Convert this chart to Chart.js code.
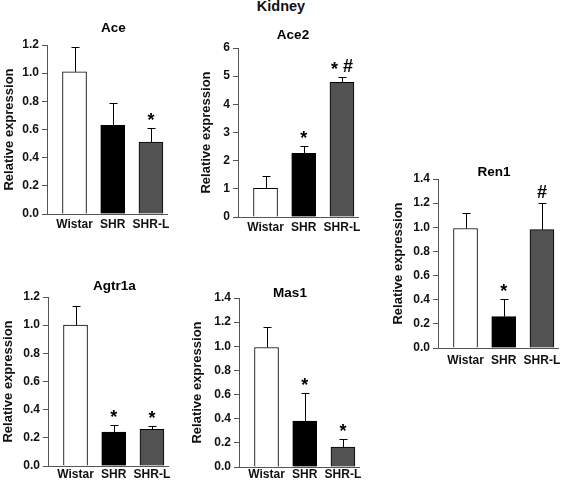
<!DOCTYPE html>
<html>
<head>
<meta charset="utf-8">
<script src="https://cdn.jsdelivr.net/npm/chart.js@4.4.0/dist/chart.umd.min.js"></script>
<style>
  body {
    margin: 0;
    width: 572px;
    height: 481px;
    position: relative;
    overflow: hidden;
    background: #fff;
    font-family: "Liberation Sans", Arial, sans-serif;
  }
  #mainTitle {
    position: absolute;
    left: 0;
    top: -2px;
    width: 562px;
    text-align: center;
    font-weight: bold;
    font-size: 14.5px;
    line-height: 16px;
    color: #111;
  }
  canvas {
    position: absolute;
  }
</style>
</head>
<body>
<div id="mainTitle">Kidney</div>
<canvas id="aceChart" width="180" height="236" style="left:0px;top:0px"></canvas>
<canvas id="ace2Chart" width="180" height="240" style="left:190px;top:0px"></canvas>
<canvas id="ren1Chart" width="192" height="220" style="left:380px;top:150px"></canvas>
<canvas id="agtr1aChart" width="180" height="231" style="left:0px;top:250px"></canvas>
<canvas id="mas1Chart" width="180" height="231" style="left:190px;top:250px"></canvas>

<script>
  // groups shown on every panel
  var groups = ["Wistar", "SHR", "SHR-L"];
  var barColors = ["#ffffff", "#000000", "#525252"];

  // values (mean, upper error)
  var aceMean = [1.01, 0.63, 0.51];
  var aceErr = [0.175, 0.16, 0.1];
  var aceMarks = ["", "", "*"];

  var ace2Mean = [1.02, 2.26, 4.78];
  var ace2Err = [0.45, 0.26, 0.19];
  var ace2Marks = ["", "*", "* #"];

  var ren1Mean = [0.99, 0.26, 0.98];
  var ren1Err = [0.13, 0.15, 0.22];
  var ren1Marks = ["", "*", "#"];

  var agtr1aMean = [1.0, 0.24, 0.26];
  var agtr1aErr = [0.135, 0.05, 0.025];
  var agtr1aMarks = ["", "*", "*"];

  var mas1Mean = [0.99, 0.38, 0.165];
  var mas1Err = [0.17, 0.23, 0.065];
  var mas1Marks = ["", "*", "*"];

  Chart.defaults.font.family = '"Liberation Sans", Arial, sans-serif';
  Chart.defaults.color = "#111";

  // draws "*", "#" etc. each glyph centred vertically on cy
  function drawMark(c, text, x, cy) {
    if (!text) return;
    c.font = "bold 18px 'Liberation Sans', Arial, sans-serif";
    c.textAlign = "left";
    c.textBaseline = "alphabetic";
    var start = x - c.measureText(text).width / 2;
    for (var k = 0; k < text.length; k++) {
      var ch = text[k];
      if (ch === " ") continue;
      var m = c.measureText(ch);
      var off = c.measureText(text.slice(0, k)).width;
      var base = cy + (m.actualBoundingBoxAscent - m.actualBoundingBoxDescent) / 2;
      c.fillText(ch, start + off, base);
    }
  }

  function makePanel(id, cfg) {
    var ctx = document.getElementById(id).getContext("2d");

    // error bars, significance marks and the panel title
    var extras = {
      id: "extras",
      afterDatasetsDraw: function (chart) {
        var c = chart.ctx;
        var meta = chart.getDatasetMeta(0);
        var yScale = chart.scales.y;
        var area = chart.chartArea;
        c.save();
        c.strokeStyle = "#000";
        c.fillStyle = "#000";
        c.lineWidth = 1;
        meta.data.forEach(function (bar, i) {
          var x = Math.round(bar.x) + 0.5;
          var top = Math.round(yScale.getPixelForValue(cfg.means[i] + cfg.errs[i])) + 0.5;
          c.beginPath();
          c.moveTo(x, bar.y);
          c.lineTo(x, top);
          c.moveTo(x - 4, top);
          c.lineTo(x + 4, top);
          c.stroke();
          drawMark(c, cfg.marks[i], bar.x, top - 12.5);
        });

        c.font = "bold 13.5px 'Liberation Sans', Arial, sans-serif";
        c.textAlign = "center";
        c.textBaseline = "alphabetic";
        var capH = c.measureText("H").actualBoundingBoxAscent;
        c.fillText(cfg.title, area.left + cfg.titleDx, area.top - cfg.titleDy + capH / 2);
        c.restore();
      },
    };

    return new Chart(ctx, {
      type: "bar",
      data: {
        datasets: [
          {
            data: cfg.means.map(function (v, i) {
              return { x: i, y: v };
            }),
            backgroundColor: barColors,
            borderColor: "#000",
            borderWidth: 1,
            barThickness: 24,
          },
        ],
      },
      options: {
        responsive: false,
        animation: false,
        layout: { padding: cfg.padding },
        plugins: {
          legend: { display: false },
          tooltip: { enabled: false },
        },
        scales: {
          x: {
            type: "linear",
            offset: false,
            min: -0.72,
            max: 2.42,
            bounds: "data",
            afterBuildTicks: function (axis) {
              axis.ticks = groups.map(function (g, i) {
                return { value: i };
              });
            },
            afterFit: function (axis) {
              axis.height = cfg.xh;
            },
            ticks: {
              autoSkip: false,
              maxRotation: 0,
              padding: cfg.xPad,
              font: { size: 12, weight: "bold" },
              color: "#111",
              callback: function (v) {
                return groups[v];
              },
            },
            grid: { display: false, drawTicks: false, offset: false },
            border: { display: true, color: "#555", width: 1 },
          },
          y: {
            min: 0,
            max: cfg.yMax,
            afterFit: function (axis) {
              axis.width = cfg.yw;
            },
            ticks: {
              stepSize: cfg.step,
              padding: 3,
              font: { size: 12, weight: "bold" },
              color: "#111",
              callback: function (v) {
                return cfg.decimals ? v.toFixed(1) : v;
              },
            },
            grid: {
              drawOnChartArea: false,
              drawTicks: true,
              tickLength: 5,
              color: "#555",
            },
            border: { display: true, color: "#555", width: 1 },
            title: {
              display: true,
              text: "Relative expression",
              font: { size: 13, weight: "bold" },
              color: "#111",
              padding: 0,
            },
          },
        },
      },
      plugins: [extras],
    });
  }

  makePanel("aceChart", {
    title: "Ace", titleDx: 66.5, titleDy: 17.5,
    means: aceMean, errs: aceErr, marks: aceMarks,
    yMax: 1.2, step: 0.2, decimals: true,
    padding: { left: 2, top: 45, right: 13, bottom: 0 },
    yw: 45, xh: 22, xPad: 3,
  });

  makePanel("ace2Chart", {
    title: "Ace2", titleDx: 55, titleDy: 14,
    means: ace2Mean, errs: ace2Err, marks: ace2Marks,
    yMax: 6, step: 1, decimals: false,
    padding: { left: 9, top: 48, right: 12, bottom: 0 },
    yw: 39, xh: 23, xPad: 3,
  });

  makePanel("ren1Chart", {
    title: "Ren1", titleDx: 56, titleDy: 7.5,
    means: ren1Mean, errs: ren1Err, marks: ren1Marks,
    yMax: 1.4, step: 0.2, decimals: true,
    padding: { left: 11, top: 29, right: 14, bottom: 0 },
    yw: 47, xh: 22, xPad: 5,
  });

  makePanel("agtr1aChart", {
    title: "Agtr1a", titleDx: 66.5, titleDy: 11.5,
    means: agtr1aMean, errs: agtr1aErr, marks: agtr1aMarks,
    yMax: 1.2, step: 0.2, decimals: true,
    padding: { left: 1, top: 47, right: 12, bottom: 0 },
    yw: 47, xh: 15, xPad: 1,
  });

  makePanel("mas1Chart", {
    title: "Mas1", titleDx: 51, titleDy: 6,
    means: mas1Mean, errs: mas1Err, marks: mas1Marks,
    yMax: 1.4, step: 0.2, decimals: true,
    padding: { left: 0, top: 48, right: 11, bottom: 0 },
    yw: 49, xh: 14, xPad: 0,
  });
</script>
</body>
</html>
